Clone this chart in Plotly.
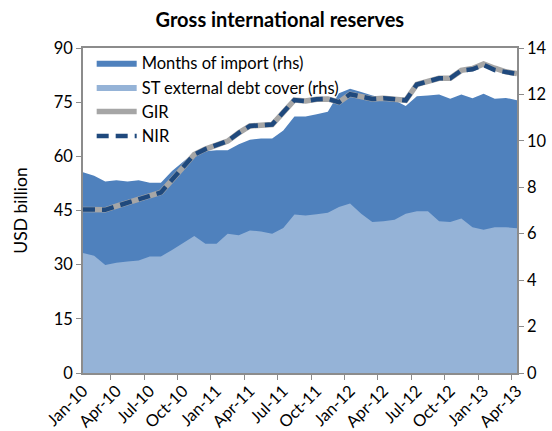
import pandas as pd
import plotly.graph_objects as go

# Monthly categories, Jan-2010 to Apr-2013
months = [d.strftime("%b-%y") for d in pd.date_range("2010-01-01", "2013-04-01", freq="MS")]

# Reserve cover in months (right-hand scale)
months_of_import = [8.65, 8.5, 8.25, 8.3, 8.25, 8.3, 8.2, 8.2, 8.7, 9.1,
                    9.5, 9.55, 9.6, 9.6, 9.85, 10.05, 10.1, 10.1, 10.45, 11.05,
                    11.05, 11.15, 11.25, 12.05, 12.25, 12.1, 11.95, 11.85, 11.75, 11.5,
                    11.92, 11.95, 12.0, 11.81, 12.0, 11.84, 12.03, 11.81, 11.85, 11.75]
st_debt_cover = [5.17, 5.05, 4.65, 4.75, 4.8, 4.85, 5.02, 5.02, 5.3, 5.6,
                 5.9, 5.57, 5.57, 6.0, 5.93, 6.14, 6.1, 6.0, 6.25, 6.83,
                 6.79, 6.84, 6.9, 7.15, 7.3, 6.86, 6.5, 6.54, 6.6, 6.86,
                 6.97, 6.97, 6.54, 6.5, 6.65, 6.28, 6.17, 6.28, 6.28, 6.24]

# Reserves in USD billion (left-hand scale)
nir = [45.3, 45.3, 45.2, 46.2, 47.1, 48.0, 49.0, 50.0, 53.5, 57.0,
       60.5, 62.0, 63.0, 64.2, 66.5, 68.4, 68.6, 68.8, 72.2, 75.6,
       75.3, 75.8, 75.9, 75.0, 77.2, 76.7, 75.9, 76.1, 75.8, 75.5,
       79.9, 80.7, 81.6, 81.6, 83.8, 84.1, 85.3, 83.9, 83.3, 82.8]
gir = [45.3, 45.3, 45.2, 46.2, 47.1, 48.0, 49.0, 50.0, 53.5, 57.0,
       60.5, 62.0, 63.0, 64.2, 66.5, 68.4, 68.6, 68.8, 72.2, 75.6,
       75.3, 75.8, 75.9, 75.0, 77.2, 76.7, 75.9, 76.1, 75.8, 75.5,
       79.9, 80.7, 81.6, 81.6, 83.8, 84.3, 85.6, 84.4, 83.4, 82.9]

left_ticks = [0, 15, 30, 45, 60, 75, 90]
right_ticks = [0, 2, 4, 6, 8, 10, 12, 14]

FONT = "Lato, Carlito, Calibri, sans-serif"
AXIS_GREY = "#8c8c8c"
TICK_SIZE = 16.5

fig = go.Figure()
fig.add_trace(go.Scatter(x=months, y=months_of_import, name="Months of import (rhs)",
                         mode="lines", fill="tozeroy", fillcolor="#4f81bd",
                         line=dict(width=0, color="#4f81bd"), yaxis="y"))
fig.add_trace(go.Scatter(x=months, y=st_debt_cover, name="ST external debt cover (rhs)",
                         mode="lines", fill="tozeroy", fillcolor="#95b3d7",
                         line=dict(width=0, color="#95b3d7"), yaxis="y"))
fig.add_trace(go.Scatter(x=months, y=gir, name="GIR", mode="lines",
                         line=dict(width=5.5, color="#a6a6a6"), yaxis="y2"))
fig.add_trace(go.Scatter(x=months, y=nir, name="NIR", mode="lines",
                         line=dict(width=4.5, color="#1f497d", dash="12px,7px"), yaxis="y2"))

fig.update_layout(
    width=552, height=431,
    margin=dict(l=83, r=35, t=47.5, b=58.3),
    paper_bgcolor="white", plot_bgcolor="white",
    font=dict(family=FONT, size=TICK_SIZE, color="#000000"),
    title=dict(text="<b>Gross international reserves</b>", x=0.507, xanchor="center",
               y=1 - 20 / 431, yanchor="middle", font=dict(size=20, family=FONT)),
    showlegend=True,
    legend=dict(x=0.02, y=1.008, xanchor="left", yanchor="top",
                bgcolor="rgba(255,255,255,0)", font=dict(size=16.5, family=FONT),
                tracegroupgap=0, itemwidth=40),
    xaxis=dict(type="category", tickmode="linear", tick0=0, dtick=3,
               tickson="boundaries", tickangle=-45, ticks="outside", ticklen=5,
               tickcolor=AXIS_GREY, showline=True, linecolor=AXIS_GREY, linewidth=1.5,
               mirror=True, showgrid=False, zeroline=False, automargin=False,
               tickfont=dict(size=16.5)),
    yaxis=dict(side="right", range=[0, 14], tickvals=right_ticks, ticks="outside",
               ticklen=5, tickcolor=AXIS_GREY, showline=True, linecolor=AXIS_GREY,
               linewidth=1.5, showgrid=False, zeroline=False, automargin=False,
               tickfont=dict(size=TICK_SIZE)),
    yaxis2=dict(side="left", overlaying="y", range=[0, 90], tickvals=left_ticks,
                ticks="outside", ticklen=5, tickcolor=AXIS_GREY, showline=True,
                linecolor=AXIS_GREY, linewidth=1.5, showgrid=False, zeroline=False,
                automargin=False,
                title=dict(text="USD billion", font=dict(size=17.5), standoff=22),
                tickfont=dict(size=TICK_SIZE)),
)

fig.write_html("out.html")
